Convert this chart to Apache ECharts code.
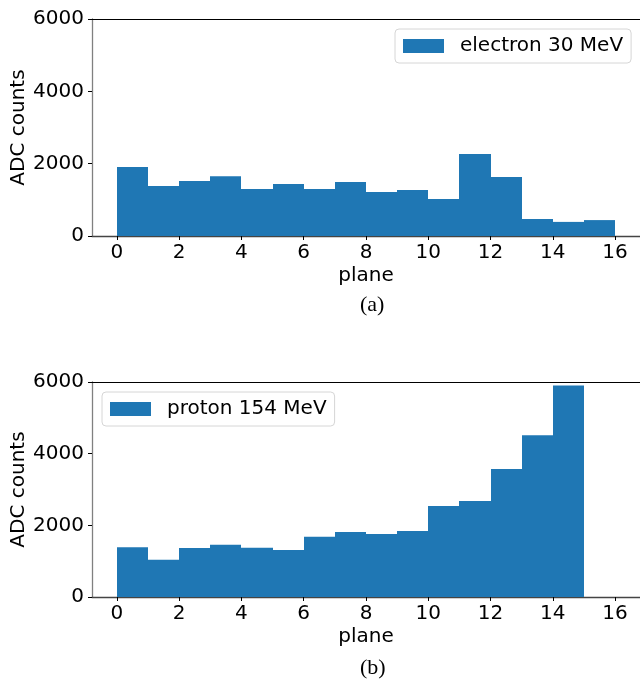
<!DOCTYPE html>
<html><head><meta charset="utf-8">
<script src="https://cdn.jsdelivr.net/npm/echarts@6/dist/echarts.min.js"></script>
<style>html,body{margin:0;padding:0;background:#fff}#c{width:640px;height:679px}</style>
</head><body><div id="c"></div>
<script>
var planes = [0,1,2,3,4,5,6,7,8,9,10,11,12,13,14,15];
var electron30 = [1905,1380,1520,1655,1300,1440,1300,1495,1215,1270,1020,2265,1630,470,390,440];
var proton154 = [1390,1040,1370,1455,1375,1315,1680,1815,1760,1845,2540,2680,3570,4515,5905];
var xTicks = [0,2,4,6,8,10,12,14,16];
var yTicks = [0,2000,4000,6000];

var FONT = 'DejaVu Sans';
var BLUE = '#1f77b4';

function binData(vals){ return vals.map(function(v,i){ return [planes[i], planes[i]+1, v]; }); }
function renderHist(params, api){
  var p0 = api.coord([api.value(0), api.value(2)]);
  var p1 = api.coord([api.value(1), 0]);
  var x0 = Math.round(p0[0]), x1 = Math.round(p1[0]);
  return {type:'rect', shape:{x:x0, y:p0[1], width:x1-x0, height:p1[1]-p0[1]}, style:{fill:BLUE}};
}
function xAx(gi){
  return {type:'value', gridIndex:gi, min:-0.8, max:16.8, position:'bottom',
    name:'plane', nameLocation:'middle', nameGap:30, nameMoveOverlap:false,
    nameTextStyle:{fontFamily:FONT,fontSize:20,color:'#000'},
    axisLine:{show:true,onZero:false,lineStyle:{color:'#444',width:1.3}},
    axisTick:{show:true,customValues:xTicks,length:4,lineStyle:{color:'#000'}},
    axisLabel:{customValues:xTicks,fontFamily:FONT,fontSize:20,color:'#000',margin:7},
    splitLine:{show:false}};
}
function xTop(gi){
  return {type:'value', gridIndex:gi, min:-0.8, max:16.8, position:'top',
    axisLine:{show:true,onZero:false,lineStyle:{color:'#000',width:1}}, axisTick:{show:false}, axisLabel:{show:false}, splitLine:{show:false}};
}
function yAx(gi){
  return {type:'value', gridIndex:gi, min:0, max:6000,
    name:'ADC counts', nameLocation:'middle', nameGap:63, nameMoveOverlap:false,
    nameTextStyle:{fontFamily:FONT,fontSize:20,color:'#000'},
    axisLine:{show:true,onZero:false,lineStyle:{color:'#808080',width:1.3}},
    axisTick:{show:true,customValues:yTicks,length:4,lineStyle:{color:'#000'}},
    axisLabel:{customValues:yTicks,fontFamily:FONT,fontSize:20,color:'#000',margin:8,
      formatter:function(v){ return String(v); }},
    splitLine:{show:false}};
}
var legendBase = {orient:'vertical', icon:'rect', itemWidth:41, itemHeight:14,
  backgroundColor:'#fff', borderColor:'#d6d6d6', borderWidth:1, borderRadius:4, padding:[7,8,7,8],
  textStyle:{fontFamily:FONT,fontSize:20,color:'#000',padding:[0,0,0,11]}};

var option = {
  animation:false,
  backgroundColor:'#fff',
  title:[
    {text:'(a)', left:355, top:289, textStyle:{fontFamily:'Liberation Serif',fontSize:22,fontWeight:'normal',color:'#000'}},
    {text:'(b)', left:355, top:652, textStyle:{fontFamily:'Liberation Serif',fontSize:22,fontWeight:'normal',color:'#000'}}
  ],
  grid:[
    {left:92, top:19, width:550, height:217},
    {left:92, top:382, width:550, height:215}
  ],
  legend:[
    Object.assign({}, legendBase, {data:['electron 30 MeV'], left:395, top:29}),
    Object.assign({}, legendBase, {data:['proton 154 MeV'], left:102, top:392})
  ],
  xAxis:[xAx(0), xAx(1), xTop(0), xTop(1)],
  yAxis:[yAx(0), yAx(1)],
  series:[
    {type:'custom', name:'electron 30 MeV', xAxisIndex:0, yAxisIndex:0, itemStyle:{color:BLUE},
     encode:{x:[0,1], y:2}, renderItem:renderHist, data:binData(electron30)},
    {type:'custom', name:'proton 154 MeV', xAxisIndex:1, yAxisIndex:1, itemStyle:{color:BLUE},
     encode:{x:[0,1], y:2}, renderItem:renderHist, data:binData(proton154)}
  ]
};
var chart = echarts.init(document.getElementById('c'));
chart.setOption(option);
</script></body></html>
